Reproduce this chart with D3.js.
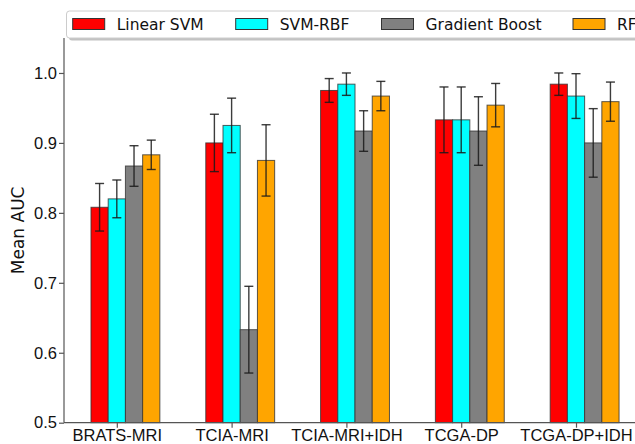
<!DOCTYPE html>
<html>
<head>
<meta charset="utf-8">
<script src="https://cdn.jsdelivr.net/npm/d3@7"></script>
<style>
  body { margin: 0; background: #fff; }
  svg { display: block; font-family: "DejaVu Sans", sans-serif; }
</style>
</head>
<body>
<div id="chart"></div>
<script>
var svgWidth = 635;
var svgHeight = 444;

// data
var categories = ["BRATS-MRI", "TCIA-MRI", "TCIA-MRI+IDH", "TCGA-DP", "TCGA-DP+IDH"];
var models = ["Linear SVM", "SVM-RBF", "Gradient Boost", "RF"];
var colors = ["#ff0000", "#00ffff", "#808080", "#ffa500"];

var linearSvm = [0.808, 0.900, 0.975, 0.933, 0.984];
var svmRbf = [0.820, 0.925, 0.984, 0.933, 0.967];
var gradBoost = [0.867, 0.633, 0.917, 0.917, 0.900];
var rf = [0.883, 0.875, 0.967, 0.954, 0.959];

var linearSvmErr = [0.034, 0.041, 0.017, 0.047, 0.016];
var svmRbfErr = [0.027, 0.039, 0.016, 0.047, 0.032];
var gradBoostErr = [0.029, 0.062, 0.029, 0.049, 0.049];
var rfErr = [0.021, 0.051, 0.021, 0.031, 0.028];

var yTicks = [0.5, 0.6, 0.7, 0.8, 0.9, 1.0];

var series = [linearSvm, svmRbf, gradBoost, rf];
var errors = [linearSvmErr, svmRbfErr, gradBoostErr, rfErr];
var barWidth = 0.15;

var svg = d3.select("#chart")
  .append("svg")
  .attr("width", svgWidth)
  .attr("height", svgHeight);

// axes area (right side runs off the picture)
var x = d3.scaleLinear()
  .domain([-0.31, 4.69])
  .range([64, 638]);

var y = d3.scaleLinear()
  .domain([0.5, 1.05])
  .range([422.7, 38]);

// bars
var barGroup = svg.append("g");
series.forEach(function(vals, s) {
  barGroup.selectAll(".bar" + s)
    .data(vals)
    .enter()
    .append("rect")
    .attr("x", (d, i) => x(i + s * barWidth - barWidth / 2))
    .attr("y", d => y(d))
    .attr("width", x(barWidth) - x(0))
    .attr("height", d => y(0.5) - y(d))
    .attr("fill", colors[s])
    .attr("stroke", "#333")
    .attr("stroke-opacity", 0.8)
    .attr("stroke-width", 1);
});

// error bars
var errGroup = svg.append("g")
  .attr("stroke", "#1a1a1a")
  .attr("stroke-opacity", 0.85)
  .attr("stroke-width", 1.4);
series.forEach(function(vals, s) {
  vals.forEach(function(v, i) {
    var cx = x(i + s * barWidth);
    var e = errors[s][i];
    errGroup.append("line")
      .attr("x1", cx).attr("x2", cx)
      .attr("y1", y(v - e)).attr("y2", y(v + e));
    [v - e, v + e].forEach(function(c) {
      errGroup.append("line")
        .attr("x1", cx - 4.5).attr("x2", cx + 4.5)
        .attr("y1", y(c)).attr("y2", y(c));
    });
  });
});

// y axis
var leftAxis = d3.axisLeft(y)
  .tickValues(yTicks)
  .tickFormat(d3.format(".1f"))
  .tickSize(5)
  .tickPadding(2);

var yAxis = svg.append("g")
  .attr("transform", `translate(${x(-0.31)}, 0)`)
  .call(leftAxis);

// x axis, ticks under the second bar of each group
var bottomAxis = d3.axisBottom(x)
  .tickValues(categories.map((c, i) => i + barWidth))
  .tickFormat((d, i) => categories[i])
  .tickSize(5)
  .tickPadding(2);

var xAxis = svg.append("g")
  .attr("transform", `translate(0, ${y(0.5)})`)
  .call(bottomAxis);

[xAxis, yAxis].forEach(function(ax) {
  ax.selectAll("path, line").attr("stroke", "#555").attr("stroke-width", 1.2);
  ax.selectAll("text").attr("fill", "#111").style("font-size", "16.5px");
});
xAxis.select(".domain").attr("d", `M${x(-0.31)},0H${svgWidth + 5}`);
yAxis.select(".domain").attr("d", `M0,${y(0.5)}V${y(1.05)}`);

svg.append("text")
  .attr("transform", `translate(24, ${(y(0.5) + y(1.05)) / 2}) rotate(-90)`)
  .attr("text-anchor", "middle")
  .attr("fill", "#111")
  .style("font-size", "17px")
  .text("Mean AUC");

// legend with shadow
var legend = svg.append("g");
legend.append("rect")
  .attr("x", 69).attr("y", 13.5)
  .attr("width", 600).attr("height", 27)
  .attr("rx", 3)
  .attr("fill", "#999")
  .attr("opacity", 0.6);
legend.append("rect")
  .attr("x", 66.5).attr("y", 11)
  .attr("width", 600).attr("height", 27)
  .attr("rx", 3)
  .attr("fill", "#fff")
  .attr("stroke", "#ccc");

var legendX = [72.7, 235.7, 381.5, 573];
models.forEach(function(m, s) {
  legend.append("rect")
    .attr("x", legendX[s]).attr("y", 18.5)
    .attr("width", 32).attr("height", 11)
    .attr("fill", colors[s])
    .attr("stroke", "#333");
  legend.append("text")
    .attr("x", legendX[s] + 44).attr("y", 30)
    .attr("fill", "#111")
    .style("font-size", "15.5px")
    .text(m);
});
</script>
</body>
</html>
